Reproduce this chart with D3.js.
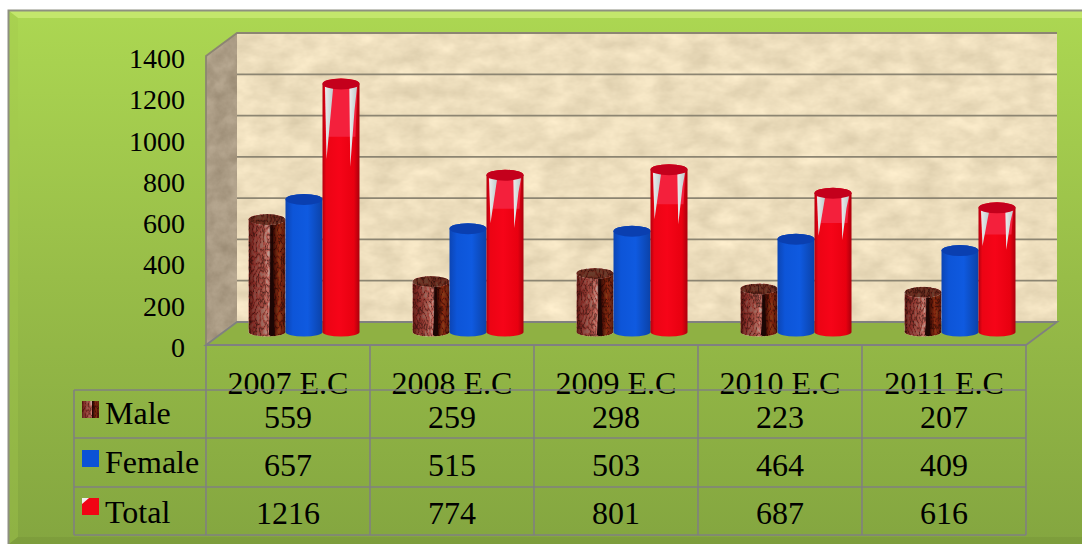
<!DOCTYPE html>
<html>
<head>
<meta charset="utf-8">
<script src="https://cdn.jsdelivr.net/npm/d3@7"></script>
<style>
  html, body { margin: 0; padding: 0; background: #fff; overflow: hidden; }
  text { font-family: "Liberation Serif", serif; fill: #000; }
</style>
</head>
<body>
<div id="chart"></div>
<script>
const categories = ["2007 E.C", "2008 E.C", "2009 E.C", "2010 E.C", "2011 E.C"];
const seriesNames = ["Male", "Female", "Total"];
const male = [559, 259, 298, 223, 207];
const female = [657, 515, 503, 464, 409];
const total = [1216, 774, 801, 687, 616];
const yTicks = [0, 200, 400, 600, 800, 1000, 1200, 1400];

const seriesValues = [male, female, total];

const width = 1082, height = 544;
const gridColor = "#8c8572", tableColor = "#808080";

// front plane of the 3d box, the back wall is shifted by depth
const margin = { left: 206, right: 1026, top: 56, bottom: 345 };
const depth = { x: 31, y: -23 };
const barShift = { x: 16, y: -10 };

const svg = d3.select("#chart").append("svg")
  .attr("width", width)
  .attr("height", height)
  .style("display", "block");

const defs = svg.append("defs");

function hGradient(id, stops) {
  const g = defs.append("linearGradient").attr("id", id);
  stops.forEach(s => g.append("stop").attr("offset", s[0]).attr("stop-color", s[1]));
}
function vGradient(id, stops) {
  const g = defs.append("linearGradient").attr("id", id)
    .attr("x1", 0).attr("x2", 0).attr("y1", 0).attr("y2", 1);
  stops.forEach(s => g.append("stop").attr("offset", s[0]).attr("stop-color", s[1]));
}

vGradient("bg", [[0, "#acd752"], [0.5, "#98bd48"], [1, "#84a640"]]);
hGradient("blueCyl", [[0, "#0c45b4"], [0.2, "#0d55d8"], [0.6, "#0f5ae0"], [1, "#0b42a8"]]);
hGradient("redCyl", [[0, "#b4000e"], [0.1, "#ec0414"], [0.45, "#f60418"], [0.85, "#e80010"], [1, "#aa000c"]]);
hGradient("maleCyl", [[0, "#5a2018"], [0.14, "#84403a"], [0.4, "#a06a60"], [0.56, "#c8a098"], [0.6, "#1c0604"], [0.7, "#4a1408"], [0.82, "#8a3c18"], [1, "#5a2010"]]);
hGradient("glass", [[0, "#ececec"], [1, "#bccccc"]]);

// paper grain for the walls
function grain(id, freq, seed, slope, base) {
  const f = defs.append("filter").attr("id", id)
    .attr("color-interpolation-filters", "sRGB")
    .attr("x", 0).attr("y", 0).attr("width", 1).attr("height", 1);
  f.append("feTurbulence").attr("type", "fractalNoise")
    .attr("baseFrequency", freq).attr("numOctaves", 4).attr("seed", seed).attr("result", "n");
  f.append("feColorMatrix").attr("in", "n").attr("type", "matrix")
    .attr("values", `${slope} 0 0 0 ${base[0]} ${slope} 0 0 0 ${base[1]} ${slope} 0 0 0 ${base[2]} 0 0 0 0 1`)
    .attr("result", "c");
  f.append("feComposite").attr("in", "c").attr("in2", "SourceAlpha").attr("operator", "in");
}
grain("wallGrain", "0.035 0.06", 4, 0.16, [0.85, 0.79, 0.66]);
grain("sideGrain", "0.07 0.07", 9, 0.16, [0.59, 0.53, 0.44]);

// bark texture, multiplies noise over the cylinder gradient
const bark = defs.append("filter").attr("id", "bark")
  .attr("color-interpolation-filters", "sRGB")
  .attr("x", 0).attr("y", 0).attr("width", 1).attr("height", 1);
bark.append("feTurbulence").attr("type", "turbulence")
  .attr("baseFrequency", "0.28 0.14").attr("numOctaves", 2).attr("seed", 7).attr("result", "n");
bark.append("feColorMatrix").attr("in", "n").attr("type", "matrix")
  .attr("values", "2.2 0 0 0 0.5  1.3 0 0 0 0.35  1.3 0 0 0 0.32  0 0 0 0 1").attr("result", "c");
bark.append("feBlend").attr("in", "SourceGraphic").attr("in2", "c").attr("mode", "multiply").attr("result", "b");
bark.append("feComposite").attr("in", "b").attr("in2", "SourceAlpha").attr("operator", "in");

// frame with bevel
svg.append("rect").attr("x", 8).attr("y", 10).attr("width", 1074).attr("height", 534)
  .attr("fill", "url(#bg)");
svg.append("path").attr("d", "M9,11H1082V18H18Z").attr("fill", "#c3e66c");
svg.append("path").attr("d", "M9,11L18,18V537L9,544Z").attr("fill", "#a2c94e").attr("opacity", 0.35);
svg.append("path").attr("d", "M9,544L18,537H1082V544Z").attr("fill", "#7b9a3a").attr("opacity", 0.7);
svg.append("path").attr("d", "M8.5,544V10.5H1082").attr("fill", "none").attr("stroke", "#8e9080").attr("stroke-width", 2);

const y = d3.scaleLinear().domain([0, 1400]).range([margin.bottom, margin.top]);
const x = d3.scaleBand().domain(categories).range([margin.left, margin.right]);
const xSeries = d3.scaleBand().domain(seriesNames).range([0, 111]);
const groupPad = (x.bandwidth() - xSeries.range()[1]) / 2;

const backX0 = margin.left + depth.x, backX1 = margin.right + depth.x;
const backY = v => y(v) + depth.y;

// walls and floor
svg.append("rect").attr("x", backX0).attr("y", backY(1400))
  .attr("width", backX1 - backX0).attr("height", backY(0) - backY(1400))
  .attr("fill", "#fff").attr("filter", "url(#wallGrain)");
svg.append("path")
  .attr("d", `M${margin.left},${y(1400)}L${backX0},${backY(1400)}V${backY(0)}L${margin.left},${y(0)}Z`)
  .attr("fill", "#fff").attr("filter", "url(#sideGrain)");
svg.append("path")
  .attr("d", `M${margin.left},${y(0)}L${backX0},${backY(0)}H${backX1}L${margin.right},${y(0)}Z`)
  .attr("fill", "#8fb143");

// gridlines on the back wall
const grid = svg.append("g").attr("fill", "none").attr("stroke", gridColor).attr("stroke-width", 1.8);
grid.selectAll("path").data(yTicks).join("path")
  .attr("d", d => `M${backX0},${backY(d)}H${backX1}`);
svg.append("path")
  .attr("d", `M${margin.left},${y(0)}V${y(1400)}L${backX0},${backY(1400)}H${backX1}`)
  .attr("fill", "none").attr("stroke", gridColor).attr("stroke-width", 1.8);
svg.append("path")
  .attr("d", `M${margin.left},${y(0)}L${backX0},${backY(0)}H${backX1}L${margin.right},${y(0)}Z`)
  .attr("fill", "none").attr("stroke", tableColor).attr("stroke-width", 1.8);

// cylinders
const ry = 5.5;
const bottomRy = 4.5;
function cylPath(cx, rx, top, bottom) {
  return `M${cx - rx},${top}A${rx},${ry} 0 0 1 ${cx + rx},${top}V${bottom}A${rx},${bottomRy} 0 0 1 ${cx - rx},${bottom}Z`;
}

categories.forEach((cat, i) => {
  const g = svg.append("g");
  const x0 = x(cat) + groupPad + barShift.x;
  const base = y(0) + barShift.y;
  const foot = base - 3;
  const barH = v => y(0) - y(v);
  const rx = xSeries.bandwidth() / 2;

  // male, bark body with the dark split down the side
  const mCx = x0 + xSeries("Male") + rx;
  const mTop = base - barH(male[i]);
  g.append("path").attr("d", cylPath(mCx, rx, mTop, foot))
    .attr("fill", "url(#maleCyl)").attr("filter", "url(#bark)");
  g.append("ellipse").attr("cx", mCx).attr("cy", mTop).attr("rx", rx).attr("ry", ry)
    .attr("fill", "#6a3c2c").attr("filter", "url(#bark)");
  g.append("path")
    .attr("d", `M${mCx + rx * 0.3},${mTop + 3}L${mCx + rx * 0.1},${foot + 3}H${mCx + rx * 0.4}Z`)
    .attr("fill", "#1c0604");

  // female
  const fCx = x0 + xSeries("Female") + rx;
  const fTop = base - barH(female[i]);
  g.append("path").attr("d", cylPath(fCx, rx, fTop, foot)).attr("fill", "url(#blueCyl)");
  g.append("ellipse").attr("cx", fCx).attr("cy", fTop).attr("rx", rx).attr("ry", ry).attr("fill", "#0a3fb0");

  // total, with the glossy glass part near the top
  const tCx = x0 + xSeries("Total") + rx;
  const tTop = base - barH(total[i]);
  const glossH = barH(total[i]) * 0.3;
  g.append("path").attr("d", cylPath(tCx, rx, tTop, foot)).attr("fill", "url(#redCyl)");
  g.append("path")
    .attr("d", `M${tCx - rx + 2},${tTop}H${tCx + rx - 2}L${tCx + rx * 0.78},${tTop + glossH * 0.7}H${tCx - rx * 0.78}Z`)
    .attr("fill", "#f4203c");
  g.append("path")
    .attr("d", `M${tCx - rx + 2.5},${tTop + 3}H${tCx - rx * 0.42}L${tCx - rx + 4},${tTop + glossH}Z`)
    .attr("fill", "url(#glass)");
  g.append("path")
    .attr("d", `M${tCx + rx - 2.5},${tTop + 3}H${tCx + rx * 0.45}L${tCx + rx * 0.5},${tTop + glossH * 1.1}L${tCx + rx - 5},${tTop + glossH * 0.35}Z`)
    .attr("fill", "url(#glass)");
  g.append("ellipse").attr("cx", tCx).attr("cy", tTop).attr("rx", rx).attr("ry", ry)
    .attr("fill", "#c4001c");
});

// y axis
const yAxis = svg.append("g")
  .attr("transform", "translate(193,0)")
  .call(d3.axisLeft(y).tickValues(yTicks).tickFormat(d3.format("d")).tickSize(0).tickPadding(8));
yAxis.select(".domain").remove();
yAxis.selectAll("text")
  .attr("dy", "11.5px")
  .style("font-family", '"Liberation Serif", serif')
  .style("font-size", "28px");

// category labels, the top table line runs through them like the original
const xAxis = svg.append("g")
  .attr("transform", `translate(0,${y(0)})`)
  .call(d3.axisBottom(x).tickSize(0).tickPadding(0));
xAxis.select(".domain").remove();
xAxis.selectAll("text")
  .attr("y", 49).attr("dy", 0)
  .style("font-family", '"Liberation Serif", serif')
  .style("font-size", "32px");

// data table
const rowEdges = [390, 438, 487, 535];
const tableLeft = 74;
const table = svg.append("g").attr("stroke", tableColor).attr("stroke-width", 1.6).attr("fill", "none");
rowEdges.forEach(r => {
  table.append("line").attr("x1", tableLeft).attr("x2", margin.right).attr("y1", r).attr("y2", r);
});
table.append("line").attr("x1", tableLeft).attr("x2", tableLeft)
  .attr("y1", rowEdges[0]).attr("y2", rowEdges[3]);
categories.forEach(c => {
  table.append("line").attr("x1", x(c)).attr("x2", x(c)).attr("y1", y(0)).attr("y2", rowEdges[3]);
});
table.append("line").attr("x1", margin.right).attr("x2", margin.right).attr("y1", y(0)).attr("y2", rowEdges[3]);

const swatchFill = ["url(#maleCyl)", "#0b52d6", "#f00414"];
const rowBase = [424, 473, 523];
const valueBase = [428, 476, 524];
const swatchTop = [401, 450, 498];

seriesNames.forEach((name, r) => {
  const sw = svg.append("rect").attr("x", 82).attr("y", swatchTop[r])
    .attr("width", 17).attr("height", 17).attr("fill", swatchFill[r]);
  if (r === 0) sw.attr("filter", "url(#bark)");
  if (r === 2) {
    svg.append("path").attr("d", `M82,${swatchTop[r]}h7l-7,6Z`).attr("fill", "#eef0ee");
  }
  svg.append("text").attr("x", 105).attr("y", rowBase[r])
    .attr("font-size", 32).text(name);
  svg.selectAll(null).data(seriesValues[r]).join("text")
    .attr("x", (d, i) => x(categories[i]) + x.bandwidth() / 2)
    .attr("y", valueBase[r])
    .attr("text-anchor", "middle")
    .attr("font-size", 32)
    .text(d => d);
});
</script>
</body>
</html>
